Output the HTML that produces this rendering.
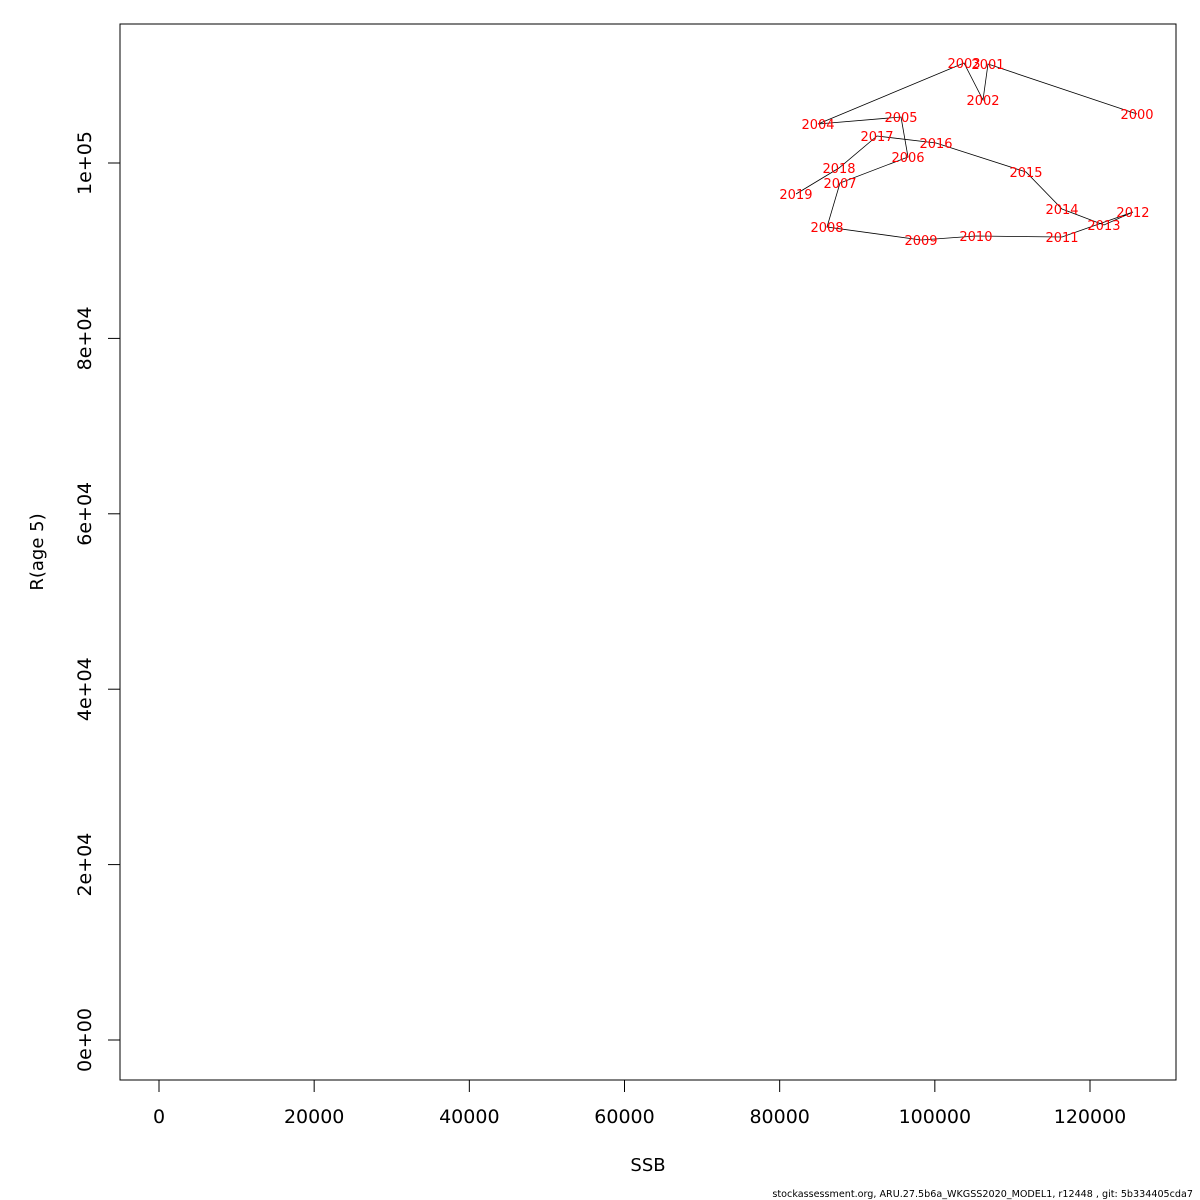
<!DOCTYPE html>
<html><head><meta charset="utf-8"><style>
html,body{margin:0;padding:0;background:#fff}
svg{display:block;font-family:"DejaVu Sans","Liberation Sans",sans-serif}
</style></head><body>
<svg id="chart" width="1200" height="1200">
<rect x="120" y="24" width="1056" height="1056" fill="none" stroke="#000" stroke-width="1"/>
<g id="xaxis"></g>
<g id="yaxis"></g>
<path id="path" fill="none" stroke="#000" stroke-width="0.8"/>
<g id="labels"></g>
<text x="648" y="1171" font-size="18" text-anchor="middle">SSB</text>
<text transform="translate(43,552) rotate(-90)" font-size="18" text-anchor="middle">R(age 5)</text>
<text x="1193" y="1197" font-size="9.6" text-anchor="end">stockassessment.org, ARU.27.5b6a_WKGSS2020_MODEL1, r12448 , git: 5b334405cda7</text>
</svg>
<script>
const years=[2000,2001,2002,2003,2004,2005,2006,2007,2008,2009,2010,2011,2012,2013,2014,2015,2016,2017,2018,2019];
const ssb=[126060,106850,106210,103760,84940,95640,96540,87780,86100,98220,105300,116390,125540,121800,116390,111750,100150,92550,87650,82100];
const rec=[105590,111290,107180,111400,104450,105250,100680,97720,92700,91220,91680,91560,94410,92930,94760,98970,102280,103080,99430,96470];
const xTicks=[0,20000,40000,60000,80000,100000,120000];
const yTicks=[0,20000,40000,60000,80000,100000];
const yTickLabels=["0e+00","2e+04","4e+04","6e+04","8e+04","1e+05"];
const NS="http://www.w3.org/2000/svg";
const sx=v=>159+v*(931/120000);
const sy=v=>1040-v*(877/100000);
const xa=document.getElementById('xaxis'),ya=document.getElementById('yaxis');
function mk(tag,attrs,parent){const e=document.createElementNS(NS,tag);for(const k in attrs)e.setAttribute(k,attrs[k]);parent.appendChild(e);return e;}
mk('line',{x1:sx(0),x2:sx(120000),y1:1080,y2:1080,stroke:'#000'},xa);
xTicks.forEach(t=>{
 const l=mk('line',{x1:sx(t),x2:sx(t),y1:1080,y2:1092,stroke:'#000'},xa);
 
 
 const tx=mk('text',{x:sx(t),y:1123,'font-size':19,'text-anchor':'middle'},xa);
 tx.textContent=String(t);
 
 
});
mk('line',{x1:120,x2:120,y1:sy(0),y2:sy(100000),stroke:'#000'},ya);
yTicks.forEach((t,i)=>{
 const l=mk('line',{x1:108,x2:120,y1:sy(t),y2:sy(t),stroke:'#000'},ya);
 
 
 const tx=mk('text',{transform:`translate(91,${sy(t)}) rotate(-90)`,'font-size':19,'text-anchor':'middle'},ya);
 tx.textContent=yTickLabels[i];
 
 
});
document.getElementById('path').setAttribute('d',ssb.map((v,i)=>(i?'L':'M')+sx(v).toFixed(1)+' '+sy(rec[i]).toFixed(1)).join(' '));
const lg=document.getElementById('labels');
years.forEach((y,i)=>{
 const t=mk('text',{x:sx(ssb[i]),y:sy(rec[i])+5,'font-size':13,'text-anchor':'middle',fill:'#ff0000'},lg);
 t.textContent=String(y);
 
 
});
</script>
</body></html>
